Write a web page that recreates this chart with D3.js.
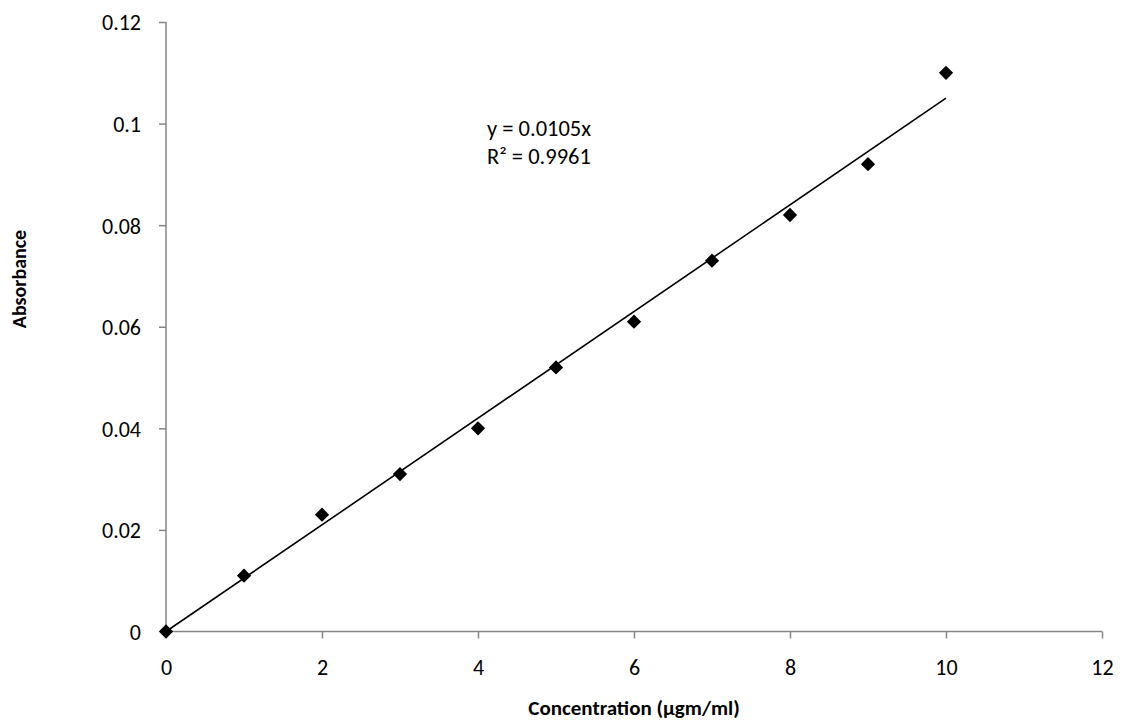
<!DOCTYPE html>
<html>
<head>
<meta charset="utf-8">
<script src="https://cdn.jsdelivr.net/npm/d3@7"></script>
<style>
  body { margin: 0; background: #fff; }
  svg text { font-family: Carlito, Lato, "Open Sans", sans-serif; fill: #000; }
</style>
</head>
<body>
<svg id="chart" width="1127" height="727"></svg>
<script>
const concentration = [0, 1, 2, 3, 4, 5, 6, 7, 8, 9, 10];
const absorbance = [0, 0.011, 0.023, 0.031, 0.040, 0.052, 0.061, 0.073, 0.082, 0.092, 0.110];
const xTicks = [0, 2, 4, 6, 8, 10, 12];
const yTicks = [0, 0.02, 0.04, 0.06, 0.08, 0.1, 0.12];
const slope = [0.0105];
const trendRange = [0, 10];
const equationLines = ["y = 0.0105x", "R² = 0.9961"];
const xTitle = "Concentration (µgm/ml)";
const yTitle = "Absorbance";

const svg = d3.select("#chart");
const x = d3.scaleLinear().domain([0, 12]).range([166, 1102]);
const y = d3.scaleLinear().domain([0, 0.12]).range([631.5, 22]);
const axisColor = "#868686";
const fontStack = "Carlito, Lato, 'Open Sans', sans-serif";

const xAxis = svg.append("g").attr("transform", `translate(0,${y(0)})`)
  .call(d3.axisBottom(x).tickValues(xTicks).tickSize(7).tickPadding(21).tickFormat(d3.format("d")));
const yAxis = svg.append("g").attr("transform", `translate(${x(0)},0)`)
  .call(d3.axisLeft(y).tickValues(yTicks).tickSize(7).tickPadding(18).tickFormat(d => d === 0 ? "0" : String(+d.toFixed(2))));
[xAxis, yAxis].forEach(g => {
  g.attr("font-size", null).attr("font-family", null);
  g.selectAll("path, line").attr("stroke", axisColor).attr("stroke-width", 1.5);
  g.selectAll("text").style("font-size", "22px").attr("fill", "#000").style("font-family", fontStack);
});
yAxis.selectAll("text").attr("dy", "0.36em");
yAxis.select(".domain").attr("d", `M0,${y(0.12)}V${y(0)}`);
xAxis.select(".domain").attr("d", `M${x(0)},0H${x(12)}`);
yAxis.selectAll(".tick").filter(d => d === 0).select("line").remove();
xAxis.selectAll(".tick").filter(d => d === 0).select("line").remove();

// trendline
const line = d3.line().x(d => x(d)).y(d => y(slope[0] * d));
svg.append("path").datum(trendRange).attr("d", line)
  .attr("stroke", "#000").attr("stroke-width", 1.6).attr("fill", "none");

// markers
const diamond = d3.symbol().type(d3.symbolDiamond2).size(130);
svg.append("g").selectAll("path").data(concentration).join("path")
  .attr("transform", (d, i) => `translate(${x(d)},${y(absorbance[i])})`)
  .attr("d", diamond).attr("fill", "#000");

// equation
svg.append("g").selectAll("text").data(equationLines).join("text")
  .attr("x", 487).attr("y", (d, i) => 136 + i * 28)
  .style("font-size", "22.5px").text(d => d);

// axis titles
svg.append("text").attr("x", (x(0) + x(12)) / 2).attr("y", 715)
  .attr("text-anchor", "middle").style("font-size", "21px").attr("font-weight", "bold").text(xTitle);
svg.append("text").attr("transform", `translate(26,279) rotate(-90)`)
  .attr("text-anchor", "middle").style("font-size", "20px").attr("font-weight", "bold").text(yTitle);
</script>
</body>
</html>
